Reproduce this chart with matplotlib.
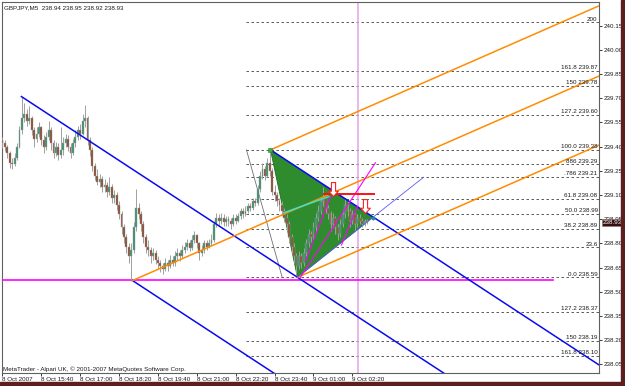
import numpy as np
import matplotlib
matplotlib.use("Agg")
import matplotlib.pyplot as plt
from matplotlib.path import Path
from matplotlib.patches import Polygon, Rectangle

# ============================================================
# 1. data (GBPJPY M5, bar index from 8 Oct 14:20)
# ============================================================
FIRST_OPEN = 239.44

CLOSE = [
    239.42, 239.40, 239.36, 239.30, 239.29, 239.33, 239.40, 239.50, 239.58, 239.60,
    239.56, 239.58, 239.50, 239.45, 239.48, 239.52, 239.44, 239.40, 239.46, 239.50,
    239.42, 239.36, 239.40, 239.35, 239.38, 239.42, 239.45, 239.40, 239.36, 239.42,
    239.46, 239.50, 239.48, 239.56, 239.58, 239.44, 239.38, 239.28, 239.22, 239.18,
    239.20, 239.15, 239.16, 239.12, 239.15, 239.08, 239.10, 239.04, 238.98, 238.90,
    238.84, 238.78, 238.72, 238.76, 238.90, 239.02, 238.98, 238.92, 238.84, 238.78,
    238.76, 238.72, 238.74, 238.70, 238.68, 238.66, 238.64, 238.68, 238.66, 238.70,
    238.68, 238.72, 238.74, 238.72, 238.76, 238.78, 238.80, 238.77, 238.82, 238.85,
    238.80, 238.74, 238.76, 238.80, 238.78, 238.80, 238.82, 238.92, 238.96, 238.94,
    238.96, 238.93, 238.95, 238.94, 238.92, 238.96, 238.94, 238.97, 239.00, 238.98,
    239.00, 239.03, 239.02, 239.06, 239.05, 239.14, 239.22, 239.26, 239.22, 239.30,
    239.25, 239.12, 239.10, 239.06, 239.04, 239.00, 238.96, 238.92, 238.84, 238.78,
    238.72, 238.66, 238.72, 238.68, 238.74, 238.80, 238.86, 238.84, 238.90, 238.96,
    239.00, 239.06, 239.08, 239.02, 238.98, 238.92, 238.96, 238.90, 238.86, 238.92,
    238.98, 239.04, 239.00, 238.94, 238.98, 238.92, 238.96, 238.94, 238.92, 238.94,
    238.93,
]

HIGH = [
    239.46, 239.44, 239.41, 239.37, 239.33, 239.36, 239.42, 239.53, 239.71, 239.67,
    239.63, 239.65, 239.59, 239.52, 239.52, 239.55, 239.53, 239.47, 239.49, 239.56,
    239.52, 239.44, 239.43, 239.42, 239.52, 239.46, 239.48, 239.47, 239.42, 239.45,
    239.50, 239.53, 239.54, 239.60, 239.66, 239.59, 239.46, 239.40, 239.30, 239.26,
    239.23, 239.22, 239.20, 239.18, 239.21, 239.17, 239.13, 239.12, 239.06, 239.00,
    238.92, 238.86, 238.80, 238.80, 238.93, 239.14, 239.05, 239.00, 238.94, 238.86,
    238.82, 238.78, 238.77, 238.76, 238.72, 238.70, 238.68, 238.71, 238.70, 238.73,
    238.72, 238.75, 238.77, 238.76, 238.79, 238.81, 238.83, 238.82, 238.85, 238.88,
    238.86, 238.81, 238.79, 238.82, 238.82, 238.83, 238.86, 238.94, 238.99, 238.98,
    238.99, 238.98, 238.97, 238.97, 238.96, 238.98, 238.98, 238.99, 239.02, 239.02,
    239.03, 239.05, 239.05, 239.08, 239.08, 239.16, 239.25, 239.30, 239.28, 239.33,
    239.38, 239.27, 239.16, 239.12, 239.08, 239.06, 239.02, 238.98, 238.94, 238.86,
    238.80, 238.74, 238.75, 238.74, 238.77, 238.83, 238.89, 238.88, 238.93, 238.99,
    239.04, 239.09, 239.15, 239.10, 239.04, 239.00, 238.99, 238.97, 238.92, 238.95,
    239.01, 239.08, 239.06, 239.02, 239.01, 238.99, 238.98, 238.98, 238.96, 238.95,
    238.95,
]

LOW = [
    239.39, 239.37, 239.33, 239.27, 239.26, 239.28, 239.32, 239.39, 239.48, 239.55,
    239.53, 239.54, 239.47, 239.40, 239.43, 239.46, 239.41, 239.36, 239.38, 239.44,
    239.38, 239.33, 239.34, 239.32, 239.33, 239.35, 239.40, 239.37, 239.33, 239.35,
    239.40, 239.44, 239.45, 239.47, 239.52, 239.41, 239.34, 239.25, 239.19, 239.16,
    239.15, 239.12, 239.12, 239.09, 239.10, 239.05, 239.05, 239.01, 238.95, 238.86,
    238.80, 238.74, 238.68, 238.57, 238.74, 238.88, 238.95, 238.88, 238.80, 238.74,
    238.72, 238.68, 238.70, 238.67, 238.65, 238.62, 238.61, 238.63, 238.63, 238.65,
    238.66, 238.66, 238.70, 238.69, 238.71, 238.74, 238.76, 238.75, 238.76, 238.80,
    238.77, 238.70, 238.72, 238.74, 238.76, 238.77, 238.79, 238.81, 238.90, 238.91,
    238.92, 238.91, 238.91, 238.91, 238.89, 238.91, 238.92, 238.93, 238.95, 238.96,
    238.97, 238.99, 239.00, 239.01, 239.03, 239.04, 239.12, 239.20, 239.19, 239.21,
    239.22, 239.10, 239.06, 239.03, 239.00, 238.97, 238.93, 238.88, 238.80, 238.74,
    238.68, 238.59, 238.64, 238.65, 238.66, 238.72, 238.78, 238.81, 238.82, 238.88,
    238.94, 238.98, 239.03, 238.99, 238.95, 238.88, 238.90, 238.86, 238.82, 238.84,
    238.90, 238.96, 238.97, 238.90, 238.92, 238.88, 238.90, 238.92, 238.90, 238.91,
    238.92,
]

# pivots used by the drawn objects (bar index, price)
HIGH1 = (7.8, 239.71)
LOW1 = (53.5, 238.57)
HIGH2 = (110.3, 239.38)
LOW2 = (121.4, 238.59)
TIP = (152.3, 238.96)
ORANGE_SLOPE = 0.0066          # price per bar
THIN_BLUE_END = (173.3, 239.21)

MAGENTA_LEVEL = 238.575
MAGENTA_END = 226.7
MAGENTA_SEGMENTS = [
    ((122.6, 238.59), (153.5, 239.30)),
    ((124.7, 238.69), (135.0, 239.09)),
    ((139.5, 238.79), (146.1, 239.03)),
]
CYAN_SEGMENT = ((115.8, 238.99), (134.3, 239.09))
RED_LEVEL = 239.105
RED_RANGE = (132.2, 152.8)
ARROWS = [(136.2, 239.14), (149.4, 239.03)]
VLINE_BAR = 146.4
FIB_START = 100.4
FIB_DIAG = ((100.4, 239.38), (115.1, 238.59))

FIB_PRICES = [240.17, 239.868, 239.775, 239.595, 239.38, 239.29, 239.211, 239.078,
              238.985, 238.892, 238.776, 238.59, 238.375, 238.195, 238.102]
FIB_LABELS = ["200", "161.8 239.87", "150 239.78", "127.2 239.60", "100.0 239.38",
              "886 239.29", ".786 239.21", "61.8 239.08", "50.0 238.99", "38.2 238.89",
              "23.6", "0.0 238.59", "127.2 238.37", "150 238.19", "161.8 238.10"]

PRICE_TICKS = [238.05, 238.20, 238.35, 238.50, 238.65, 238.80, 238.95,
               239.10, 239.25, 239.40, 239.55, 239.70, 239.85, 240.00, 240.15]
TIME_TICKS = [0, 16, 32, 48, 64, 80, 96, 112, 128, 144]
TIME_LABELS = ["8 Oct 2007", "8 Oct 15:40", "8 Oct 17:00", "8 Oct 18:20", "8 Oct 19:40",
               "8 Oct 21:00", "8 Oct 22:20", "8 Oct 23:40", "9 Oct 01:00", "9 Oct 02:20"]
LAST_PRICE = 238.93
TITLE = "GBPJPY,M5  238.94 238.95 238.92 238.93"
FOOTER = "MetaTrader - Alpari UK, \u00a9 2001-2007 MetaQuotes Software Corp."

# ============================================================
# 2. figure
# ============================================================
plt.rcParams["font.family"] = ["Liberation Sans", "DejaVu Sans"]
FS = 4.5
TXT = "#1A1A1A"

W, H = 625, 386
fig = plt.figure(figsize=(W / 100, H / 100), dpi=100, facecolor="white")
ax = fig.add_axes([2 / W, 13 / H, 597 / W, 371 / H])
X0, X1 = -0.2, 245.5
Y0, Y1 = 237.997, 240.296
ax.set_xlim(X0, X1)
ax.set_ylim(Y0, Y1)

for s in ax.spines.values():
    s.set_color("#606060")
    s.set_linewidth(0.8)

# ------------------------------------------------------------
# fibo levels
# ------------------------------------------------------------
for p, lab in zip(FIB_PRICES, FIB_LABELS):
    ax.plot([FIB_START, X1], [p, p], color="#404040", lw=0.6,
            ls=(0, (3, 3)), zorder=2)
    ax.text(X1 - 0.6, p + 0.004, lab, fontsize=FS, color=TXT,
            ha="right", va="bottom", zorder=9)
ax.plot(*zip(*FIB_DIAG), color="#707070", lw=0.6, zorder=3)

# magenta horizontal level
ax.plot([X0, MAGENTA_END], [MAGENTA_LEVEL, MAGENTA_LEVEL], color="#FF00FF",
        lw=1.2, zorder=3)

# pink vertical line
ax.axvline(VLINE_BAR, color="#E8A0E8", lw=1.1, zorder=2)

# ------------------------------------------------------------
# triangle
# ------------------------------------------------------------
tri = Polygon([HIGH2, LOW2, TIP], closed=True, facecolor="#2E8B2E",
              edgecolor="#1F6F1F", lw=0.6, zorder=3)
ax.add_patch(tri)


def ray(p, slope, x_end=X1):
    return [p[0], x_end], [p[1], p[1] + slope * (x_end - p[0])]


# blue channel
blue_slope = (LOW2[1] - HIGH1[1]) / (LOW2[0] - HIGH1[0])
for p in (HIGH1, LOW1, HIGH2):
    ax.plot(*ray(p, blue_slope), color="#0A0AF0", lw=1.1, zorder=6)

# orange channel
for p in (LOW1, HIGH2, LOW2):
    ax.plot(*ray(p, ORANGE_SLOPE), color="#FF8C00", lw=1.1, zorder=6)

# thin blue line through the triangle tip
ax.plot([LOW2[0], TIP[0], THIN_BLUE_END[0]], [LOW2[1], TIP[1], THIN_BLUE_END[1]],
        color="#5A5AF5", lw=0.6, zorder=6)

# ------------------------------------------------------------
# candles
# ------------------------------------------------------------
close = np.array(CLOSE)
high = np.array(HIGH)
low = np.array(LOW)
opn = np.r_[FIRST_OPEN, close[:-1]]
idx = np.arange(len(close))
up = close >= opn

ax.vlines(idx, low, high, color="#A0A0A0", lw=0.7, zorder=4)
body_lo = np.minimum(opn, close)
body_h = np.maximum(np.abs(close - opn), 0.006)
ax.bar(idx, body_h, bottom=body_lo, width=0.78,
       color=np.where(up, "#3A9070", "#8B4A2B"), edgecolor="#9A9A9A",
       lw=0.3, zorder=5)

# ------------------------------------------------------------
# small objects inside the triangle
# ------------------------------------------------------------
for a, b in MAGENTA_SEGMENTS:
    ax.plot([a[0], b[0]], [a[1], b[1]], color="#FF00FF", lw=0.8, zorder=7)
ax.plot(*zip(*CYAN_SEGMENT), color="#40E0D0", lw=1.1, zorder=7)
ax.plot(RED_RANGE, [RED_LEVEL, RED_LEVEL], color="#FF1010", lw=1.4, zorder=7)

arrow = Path([(-0.3, 1.0), (0.3, 1.0), (0.3, -0.25), (0.7, -0.25), (0.0, -1.0),
              (-0.7, -0.25), (-0.3, -0.25), (-0.3, 1.0)])
for ax_x, ax_y in ARROWS:
    ax.plot(ax_x, ax_y, marker=arrow, ms=10, mfc="white", mec="#FF2020",
            mew=0.8, zorder=8)

ax.plot(*HIGH2, marker="s", ms=2.6, mfc="#3CB043", mec="#2E7D32", mew=0.4, zorder=8)
ax.plot(*TIP, marker="o", ms=1.8, mfc="#2E8B8B", mec="#2E8B8B", zorder=8)

# ------------------------------------------------------------
# axes, ticks, texts
# ------------------------------------------------------------
ax.yaxis.tick_right()
ax.set_yticks(PRICE_TICKS)
ax.set_yticklabels([f"{v:.2f}" for v in PRICE_TICKS])
ax.tick_params(axis="y", direction="out", length=2, width=0.6, pad=1.5,
               labelsize=FS, colors=TXT)
ax.set_xticks(TIME_TICKS)
ax.set_xticklabels(TIME_LABELS)
ax.tick_params(axis="x", direction="out", length=2, width=0.6, pad=1.2,
               labelsize=FS, colors=TXT)
for lab in ax.get_xticklabels():
    lab.set_ha("left")

ax.annotate(f"{LAST_PRICE:.2f}", xy=(1.006, LAST_PRICE),
            xycoords=("axes fraction", "data"), fontsize=FS, color="white",
            ha="left", va="center", annotation_clip=False, zorder=10,
            bbox=dict(boxstyle="square,pad=0.15", fc="#3A0E0E", ec="#808080", lw=0.4))

ax.text(0.004, 0.992, TITLE, transform=ax.transAxes, fontsize=FS, color=TXT,
        ha="left", va="top")
ax.text(0.002, 0.003, FOOTER, transform=ax.transAxes, fontsize=FS, color=TXT,
        ha="left", va="bottom")

# window frame on the right and bottom
fig.patches.append(Rectangle((621 / W, 0), 4 / W, 1, transform=fig.transFigure,
                             color="#5C1E1E", zorder=0))
fig.patches.append(Rectangle((0, 0), 1, 4 / H, transform=fig.transFigure,
                             color="#5C1E1E", zorder=0))

fig.savefig("out.png", dpi=100, facecolor="white")
